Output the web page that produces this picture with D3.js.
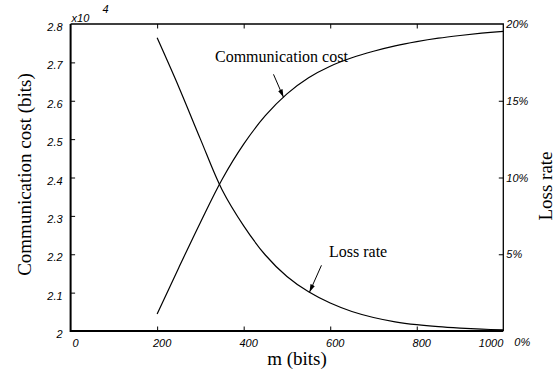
<!DOCTYPE html>
<html>
<head>
<meta charset="utf-8">
<script src="https://cdn.jsdelivr.net/npm/d3@7"></script>
<style>
  html, body { margin: 0; padding: 0; background: #fff; }
  svg { display: block; }
  .tick-label { font-family: "Liberation Sans", Arial, sans-serif; font-style: italic; font-size: 11px; fill: #000; }
  .axis-title { font-family: "Liberation Serif", "Times New Roman", serif; font-size: 19px; fill: #000; }
  .note { font-family: "Liberation Serif", "Times New Roman", serif; font-size: 16px; fill: #000; }
</style>
</head>
<body>
<svg id="chart" width="559" height="377"></svg>
<script>
// m (bits) sample points
const mValues = [200, 250, 300, 350, 400, 450, 500, 550, 600, 650, 700, 750, 800, 850, 900, 950, 1000];
// Communication cost, in units of 10^4 bits
const costValues = [2.044, 2.165, 2.283, 2.395, 2.487, 2.561, 2.618, 2.660, 2.690, 2.712, 2.729, 2.743, 2.754, 2.763, 2.770, 2.776, 2.781];
// Loss rate, percent
const lossValues = [19.1, 15.9, 12.5, 9.2, 6.85, 4.95, 3.55, 2.55, 1.82, 1.27, 0.88, 0.6, 0.41, 0.28, 0.19, 0.12, 0.07];

// Axis ticks
const xTicks = [0, 200, 400, 600, 800, 1000];
const costTicks = [2, 2.1, 2.2, 2.3, 2.4, 2.5, 2.6, 2.7, 2.8];
const lossTicks = [0, 5, 10, 15, 20];

const margin = { left: 70.6, right: 503.3, top: 24, bottom: 331 };

const svg = d3.select("#chart");

const x = d3.scaleLinear().domain([0, 1000]).range([margin.left, margin.right]);
const yCost = d3.scaleLinear().domain([2, 2.8]).range([margin.bottom, margin.top]);
const yLoss = d3.scaleLinear().domain([0, 20]).range([margin.bottom, margin.top]);

// Inward ticks on all four sides
const tickLen = 4.5;
const styleTicks = g => {
  g.select(".domain").remove();
  g.selectAll("line").attr("stroke", "#000").attr("stroke-width", 1);
};
svg.append("g")
  .attr("transform", `translate(0,${margin.bottom})`)
  .call(d3.axisBottom(x).tickValues(xTicks.slice(1, -1)).tickSize(-tickLen).tickSizeOuter(0).tickFormat(""))
  .call(styleTicks);
svg.append("g")
  .attr("transform", `translate(0,${margin.top})`)
  .call(d3.axisTop(x).tickValues(xTicks.slice(1, -1)).tickSize(-tickLen).tickSizeOuter(0).tickFormat(""))
  .call(styleTicks);
svg.append("g")
  .attr("transform", `translate(${margin.left},0)`)
  .call(d3.axisLeft(yCost).tickValues(costTicks.slice(1, -1)).tickSize(-tickLen).tickSizeOuter(0).tickFormat(""))
  .call(styleTicks);
svg.append("g")
  .attr("transform", `translate(${margin.right},0)`)
  .call(d3.axisRight(yLoss).tickValues(lossTicks.slice(1, -1)).tickSize(-tickLen).tickSizeOuter(0).tickFormat(""))
  .call(styleTicks);

// Frame
svg.append("path")
  .attr("d", `M${margin.left},${margin.top}H${margin.right}V${margin.bottom}`)
  .attr("fill", "none").attr("stroke", "#000").attr("stroke-width", 1.3);
svg.append("path")
  .attr("d", `M${margin.left},${margin.top}V${margin.bottom}H${margin.right}`)
  .attr("fill", "none").attr("stroke", "#000").attr("stroke-width", 2);

// Tick labels
svg.append("g").selectAll("text").data(xTicks).join("text")
  .attr("class", "tick-label")
  .attr("x", d => x(d))
  .attr("y", margin.bottom + 16)
  .attr("dx", (d, i) => i === xTicks.length - 1 ? 0 : 5)
  .attr("text-anchor", (d, i) => i === xTicks.length - 1 ? "end" : "middle")
  .text(d => d);

svg.append("g").selectAll("text").data(costTicks).join("text")
  .attr("class", "tick-label")
  .attr("x", margin.left - 8)
  .attr("y", d => yCost(d) + 7)
  .attr("text-anchor", "end")
  .text(d => d3.format(".1~f")(d));

svg.append("g").selectAll("text").data(lossTicks).join("text")
  .attr("class", "tick-label")
  .attr("x", d => margin.right + (d === 0 ? 11 : 3))
  .attr("y", d => d === 0 ? margin.bottom + 15 : yLoss(d) + 4)
  .text(d => d + "%");

// Exponent marker for the cost axis
svg.append("text").attr("class", "tick-label")
  .attr("x", margin.left + 1).attr("y", margin.top - 2)
  .text("x10");
svg.append("text").attr("class", "tick-label")
  .attr("x", margin.left + 32).attr("y", margin.top - 11)
  .attr("font-size", 9)
  .text("4");

// Curves
const costLine = d3.line().x((d, i) => x(mValues[i])).y(d => yCost(d)).curve(d3.curveCatmullRom.alpha(0.5));
const lossLine = d3.line().x((d, i) => x(mValues[i])).y(d => yLoss(d)).curve(d3.curveCatmullRom.alpha(0.5));

svg.append("path").datum(costValues)
  .attr("d", costLine)
  .attr("fill", "none").attr("stroke", "#000").attr("stroke-width", 1.2);
svg.append("path").datum(lossValues)
  .attr("d", lossLine)
  .attr("fill", "none").attr("stroke", "#000").attr("stroke-width", 1.2);

// Annotation arrows pointing onto each curve
svg.append("defs").append("marker")
  .attr("id", "arrowhead")
  .attr("viewBox", "0 0 10 6")
  .attr("refX", 10).attr("refY", 3)
  .attr("markerWidth", 8).attr("markerHeight", 5)
  .attr("markerUnits", "userSpaceOnUse")
  .attr("orient", "auto")
  .append("path").attr("d", "M0,0L10,3L0,6Z").attr("fill", "#000");

const interp = (vals, m) => d3.scaleLinear().domain(mValues).range(vals)(m);

const costTipM = 492;
const costTip = [x(costTipM), yCost(interp(costValues, costTipM))];
svg.append("line")
  .attr("x1", costTip[0] - 10).attr("y1", costTip[1] - 23)
  .attr("x2", costTip[0]).attr("y2", costTip[1])
  .attr("stroke", "#000").attr("stroke-width", 1)
  .attr("marker-end", "url(#arrowhead)");
svg.append("text").attr("class", "note")
  .attr("x", 215).attr("y", 61.5)
  .text("Communication cost");

const lossTipM = 552;
const lossTip = [x(lossTipM), yLoss(interp(lossValues, lossTipM))];
svg.append("line")
  .attr("x1", lossTip[0] + 12).attr("y1", lossTip[1] - 27)
  .attr("x2", lossTip[0]).attr("y2", lossTip[1])
  .attr("stroke", "#000").attr("stroke-width", 1)
  .attr("marker-end", "url(#arrowhead)");
svg.append("text").attr("class", "note")
  .attr("x", 329).attr("y", 256.5)
  .text("Loss rate");

// Axis titles
svg.append("text").attr("class", "axis-title")
  .attr("x", 297).attr("y", 365)
  .attr("text-anchor", "middle")
  .text("m (bits)");
svg.append("text").attr("class", "axis-title")
  .attr("transform", "translate(31,174.5) rotate(-90)")
  .attr("text-anchor", "middle")
  .text("Communication cost (bits)");
svg.append("text").attr("class", "axis-title")
  .attr("transform", "translate(552,186) rotate(-90)")
  .attr("text-anchor", "middle")
  .text("Loss rate");
</script>
</body>
</html>
